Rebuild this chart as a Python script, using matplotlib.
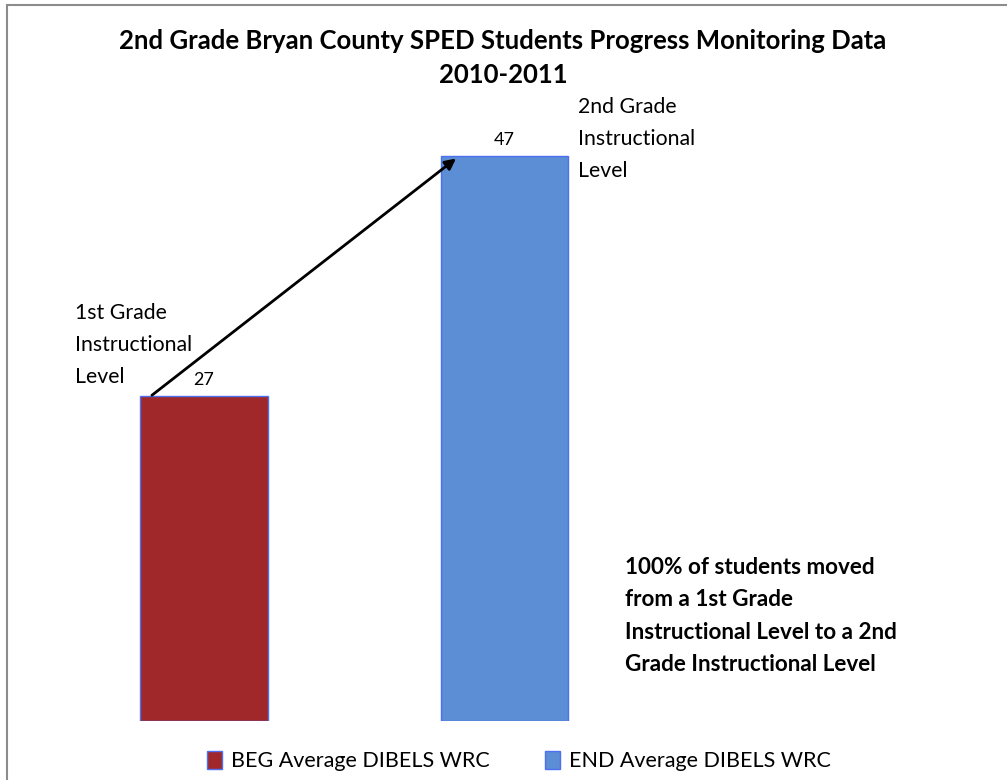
import matplotlib
matplotlib.use('Agg')
import matplotlib.pyplot as plt
from matplotlib.patches import Rectangle, Patch

# data
series = ["BEG Average DIBELS WRC", "END Average DIBELS WRC"]
values = [27, 47]
colors = ["#A0272A", "#5B8ED5"]
level_labels = ["1st Grade\nInstructional\nLevel", "2nd Grade\nInstructional\nLevel"]
title = "2nd Grade Bryan County SPED Students Progress Monitoring Data\n2010-2011"
note = ("100% of students moved\nfrom a 1st Grade\n"
        "Instructional Level to a 2nd\nGrade Instructional Level")

plt.rcParams['font.family'] = ['Lato', 'DejaVu Sans']

W, H = 1007, 780
fig = plt.figure(figsize=(W / 100, H / 100), dpi=100)

# gray chart border (right and bottom are cut off in the original)
fig.patches.append(Rectangle((7 / W, -0.1), 1.2, 1 - 5 / H + 0.1,
                             transform=fig.transFigure, fill=False,
                             edgecolor="#8c8c8c", lw=1.5))

ax = fig.add_axes([0, (H - 721) / H, 1, 601 / H])
x = [0, 1]
w = 127 / 300.5
ax.bar(x, values, width=w, color=colors, edgecolor="#4D6FF2", linewidth=1)
ax.set_xlim(-204 / 300.5, (W - 204) / 300.5)
ax.set_ylim(0, 50)
ax.axis('off')

for xi, v in zip(x, values):
    ax.annotate(str(v), (xi, v), xytext=(0, 6), textcoords='offset points',
                ha='center', va='bottom', fontsize=13)

# arrow from the first bar to the second
ax.annotate("", xy=(x[1] - w / 2 + 0.05, values[1] - 0.2),
            xytext=(x[0] - w / 2 + 0.038, values[0] + 0.1),
            arrowprops=dict(arrowstyle="-|>", color="black", lw=2,
                            mutation_scale=16, shrinkA=0, shrinkB=0))

fig.text(503 / W, 1 - 58 / H, title, ha='center', va='center',
         fontsize=18.5, fontweight='bold', linespacing=1.54)

fig.text(75 / W, 1 - 345 / H, level_labels[0], ha='left', va='center',
         fontsize=15.3, linespacing=1.74)
fig.text(578 / W, 1 - 139 / H, level_labels[1], ha='left', va='center',
         fontsize=15.3, linespacing=1.74)

fig.text(625 / W, 1 - 616 / H, note, ha='left', va='center',
         fontsize=16.2, fontweight='bold', linespacing=1.65)

handles = [Patch(facecolor=c, edgecolor="#4D6FF2", lw=1) for c in colors]
fig.legend(handles, series, loc='center', bbox_to_anchor=(519 / W, 1 - 761 / H),
           ncol=2, frameon=False, fontsize=15.5, handlelength=0.7,
           handleheight=0.9, handletextpad=0.4, columnspacing=2.6)

fig.savefig("out.png", dpi=100)
